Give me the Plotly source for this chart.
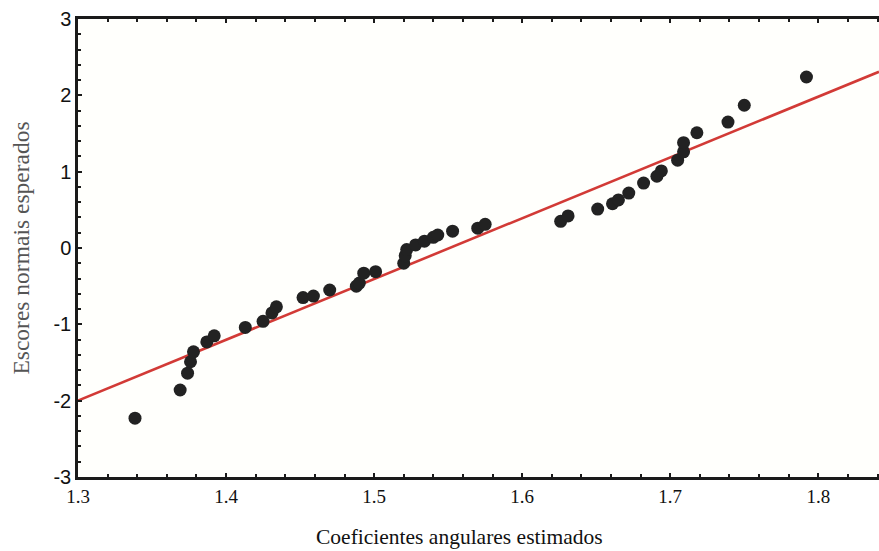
import plotly.graph_objects as go

# Estimated slope coefficients (x) and expected normal scores (y)
coef = [1.3385, 1.369, 1.374, 1.376, 1.378, 1.387, 1.392, 1.413, 1.425, 1.431, 1.434,
        1.452, 1.459, 1.470, 1.488, 1.490, 1.493, 1.501, 1.520, 1.521, 1.522, 1.528,
        1.534, 1.540, 1.543, 1.553, 1.570, 1.575, 1.626, 1.631, 1.651, 1.661, 1.665,
        1.672, 1.682, 1.691, 1.694, 1.705, 1.709, 1.709, 1.718, 1.739, 1.750, 1.792]
scores = [-2.23, -1.86, -1.64, -1.49, -1.36, -1.23, -1.15, -1.04, -0.96, -0.85, -0.77,
          -0.65, -0.63, -0.55, -0.50, -0.46, -0.33, -0.31, -0.20, -0.10, -0.02, 0.04,
          0.09, 0.14, 0.17, 0.22, 0.26, 0.31, 0.35, 0.42, 0.51, 0.58, 0.63,
          0.72, 0.85, 0.94, 1.01, 1.15, 1.26, 1.38, 1.51, 1.65, 1.87, 2.24]

# Reference normal line parameters
mu = 1.551
sigma = 0.1256
x_range = [1.3, 1.841]
line_x = x_range
line_y = [(v - mu) / sigma for v in line_x]

x_ticks = [1.3, 1.4, 1.5, 1.6, 1.7, 1.8]
x_ticklabels = ["1.3", "1.4", "1.5", "1.6", "1.7", "1.8"]
y_ticks = [-3, -2, -1, 0, 1, 2, 3]
y_ticklabels = ["-3", "-2", "-1", "0", "1", "2", "3"]

fig = go.Figure()
fig.add_trace(go.Scatter(x=line_x, y=line_y, mode="lines",
                         line=dict(color="#d23a36", width=2.6), hoverinfo="skip"))
fig.add_trace(go.Scatter(x=coef, y=scores, mode="markers",
                         marker=dict(color="#222222", size=13, line=dict(width=0))))

fig.update_layout(
    width=879, height=551,
    margin=dict(l=78, r=0, t=19, b=74),
    paper_bgcolor="white", plot_bgcolor="#fffffc",
    showlegend=False,
    xaxis=dict(
        range=x_range, tickvals=x_ticks, ticktext=x_ticklabels,
        showgrid=False, zeroline=False,
        showline=True, linecolor="#1a1a1a", linewidth=2.5, mirror="ticks",
        ticks="inside", ticklen=4, tickwidth=1.5, tickcolor="#1a1a1a",
        minor=dict(dtick=0.02, tick0=1.3, ticks="inside", ticklen=3, tickwidth=1.5, tickcolor="#1a1a1a"),
        tickfont=dict(family="Liberation Serif", size=19, color="#111111"),
    ),
    yaxis=dict(
        range=[-3, 3], tickvals=y_ticks, ticktext=y_ticklabels,
        showgrid=False, zeroline=False,
        showline=True, linecolor="#1a1a1a", linewidth=2.5, mirror=False,
        ticks="inside", ticklen=4, tickwidth=1.5, tickcolor="#1a1a1a",
        minor=dict(dtick=0.2, tick0=-3, ticks="inside", ticklen=3, tickwidth=1.5, tickcolor="#1a1a1a"),
        tickfont=dict(family="Liberation Sans", size=20, color="#111111"),
        title=dict(text="Escores normais esperados", standoff=18,
                   font=dict(family="Liberation Serif", size=23.5, color="#555555")),
    ),
    annotations=[dict(
        text="Coeficientes angulares estimados", xref="paper", yref="paper",
        x=(459 - 78) / 801, y=-0.13, xanchor="center", yanchor="middle",
        showarrow=False,
        font=dict(family="Liberation Serif", size=21.5, color="#111111"),
    )],
)

fig.write_html("out.html")
